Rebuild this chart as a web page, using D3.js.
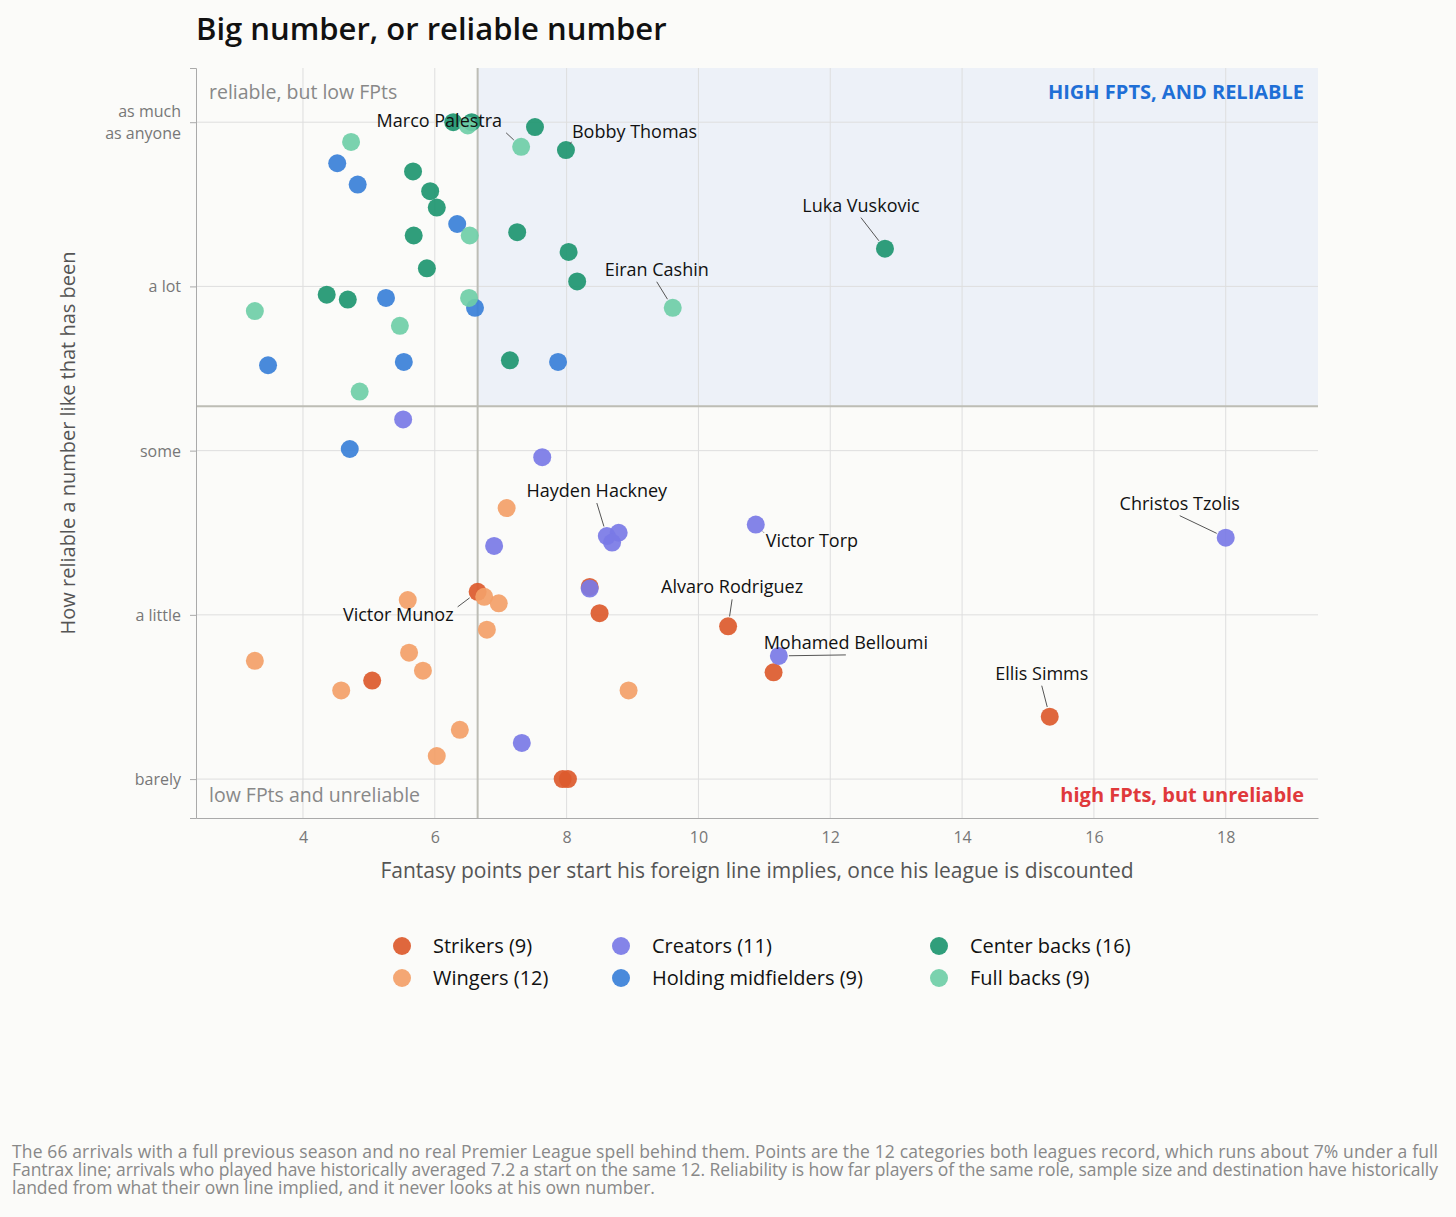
<!DOCTYPE html>
<html><head><meta charset="utf-8">
<script src="https://cdn.jsdelivr.net/npm/d3@7"></script>
<style>
body{margin:0;background:#fbfbf9;font-family:"Open Sans","Noto Sans",sans-serif;}
</style></head><body><div id="chart"></div>
<script>
// values: x = fantasy points, y = reliability (0 = barely, 4 = as much as anyone)
const strikers = [[6.65,1.14],[8.35,1.17],[8.50,1.01],[5.05,0.60],[10.45,0.93],[11.14,0.65],[15.33,0.38],[7.94,0],[8.02,0]];
const wingers = [[7.09,1.65],[5.59,1.09],[6.75,1.11],[6.97,1.07],[6.79,0.91],[3.27,0.72],[5.61,0.77],[5.82,0.66],[4.58,0.54],[8.94,0.54],[6.38,0.30],[6.03,0.14]];
const creators = [[5.52,2.19],[7.63,1.96],[10.87,1.55],[18.0,1.47],[8.61,1.48],[8.79,1.50],[8.69,1.44],[6.90,1.42],[8.35,1.16],[11.22,0.75],[7.32,0.22]];
const holding = [[4.52,3.75],[4.83,3.62],[6.34,3.38],[5.26,2.93],[6.61,2.87],[3.47,2.52],[5.53,2.54],[7.87,2.54],[4.71,2.01]];
const centerBacks = [[6.28,4.00],[6.56,4.00],[7.52,3.97],[7.99,3.83],[5.67,3.70],[5.93,3.58],[6.03,3.48],[7.25,3.33],[5.68,3.31],[8.03,3.21],[12.83,3.23],[5.88,3.11],[8.16,3.03],[4.36,2.95],[4.68,2.92],[7.14,2.55]];
const fullBacks = [[4.73,3.88],[6.50,3.98],[7.31,3.85],[6.53,3.31],[6.52,2.93],[9.61,2.87],[3.27,2.85],[5.47,2.76],[4.86,2.36]];

const seriesNames = ["Strikers (9)","Wingers (12)","Creators (11)","Holding midfielders (9)","Center backs (16)","Full backs (9)"];
const seriesData = [strikers, wingers, creators, holding, centerBacks, fullBacks];
const seriesColors = ["#dc5a2c","#f3a068","#7a7ae6","#3a80d8","#1e9670","#6fcea7"];

const yTicks = [0,1,2,3,4];
const yTickLabels = ["barely","a little","some","a lot","as much|as anyone"];
const xTicks = [4,6,8,10,12,14,16,18];
const splitX = 6.65, splitY = 2.27;

// name, x, y of the point, then label dx/dy (px), anchor
const labels = [
  ["Marco Palestra",7.31,3.85,-19,-20,"end"],
  ["Bobby Thomas",7.99,3.83,6,-12,"start"],
  ["Luka Vuskovic",12.83,3.23,-24,-37,"middle"],
  ["Eiran Cashin",9.61,2.87,-16,-32,"middle"],
  ["Hayden Hackney",8.61,1.48,-10,-39,"middle"],
  ["Christos Tzolis",18.0,1.47,-46,-28,"middle"],
  ["Victor Torp",10.87,1.55,10,22,"start"],
  ["Alvaro Rodriguez",10.45,0.93,4,-33,"middle"],
  ["Victor Munoz",6.65,1.14,-24,29,"end"],
  ["Mohamed Belloumi",11.22,0.75,67,-7,"middle"],
  ["Ellis Simms",15.33,0.38,-8,-37,"middle"]
];

const W = 1456, H = 1217;
const svg = d3.select("#chart").append("svg").attr("width", W).attr("height", H);
const x = d3.scaleLinear().domain([2.377, 19.40]).range([196, 1318]);
const y = d3.scaleLinear().domain([-0.237, 4.33]).range([818, 68]);

svg.append("rect").attr("x", x(splitX)).attr("y", y(4.33)).attr("width", x(19.40) - x(splitX))
  .attr("height", y(splitY) - y(4.33)).attr("fill", "#edf1f8");

const grid = svg.append("g");
xTicks.forEach(t => grid.append("line").attr("x1", x(t)).attr("x2", x(t)).attr("y1", 68).attr("y2", 818).attr("stroke", "#dedede"));
yTicks.forEach(t => grid.append("line").attr("x1", 196).attr("x2", 1318).attr("y1", y(t)).attr("y2", y(t)).attr("stroke", "#dedede"));

svg.append("line").attr("x1", x(splitX)).attr("x2", x(splitX)).attr("y1", 68).attr("y2", 818).attr("stroke", "#bdbdb5").attr("stroke-width", 2);
svg.append("line").attr("x1", 196).attr("x2", 1318).attr("y1", y(splitY)).attr("y2", y(splitY)).attr("stroke", "#bdbdb5").attr("stroke-width", 2);

const xAxis = svg.append("g").attr("transform", "translate(0,818)").call(d3.axisBottom(x).tickValues(xTicks).tickSize(0).tickPadding(14));
const yAxis = svg.append("g").attr("transform", "translate(196,0)").call(d3.axisLeft(y).tickValues(yTicks).tickSize(6).tickPadding(10).tickFormat(""));
[xAxis, yAxis].forEach(a => {
  a.select(".domain").attr("stroke", "#aaa");
  a.selectAll("line").attr("stroke", "#aaa");
  a.selectAll("text").attr("fill", "#777").style("font-size", "16px").style("font-family", "Open Sans");
});
yTicks.forEach((t, i) => {
  const parts = yTickLabels[i].split("|");
  const tx = svg.append("text").attr("x", 181).attr("y", y(t) + 6 - (parts.length - 1) * 11)
    .attr("text-anchor", "end").attr("fill", "#777").style("font-size", "16px");
  parts.forEach((p, j) => tx.append("tspan").attr("x", 181).attr("dy", j ? 22 : 0).text(p));
});

svg.append("text").attr("x", 757).attr("y", 878).attr("text-anchor", "middle").attr("fill", "#555")
  .style("font-size", "21px").text("Fantasy points per start his foreign line implies, once his league is discounted");
svg.append("text").attr("transform", "translate(75,443) rotate(-90)").attr("text-anchor", "middle").attr("fill", "#555")
  .style("font-size", "20px").text("How reliable a number like that has been");

svg.append("text").attr("x", 196).attr("y", 40).style("font-size", "31px").style("font-weight", "600").attr("fill", "#111")
  .text("Big number, or reliable number");

svg.append("text").attr("x", 209).attr("y", 99).attr("fill", "#888").style("font-size", "19.5px").text("reliable, but low FPts");
svg.append("text").attr("x", 209).attr("y", 802).attr("fill", "#888").style("font-size", "19.5px").text("low FPts and unreliable");
svg.append("text").attr("x", 1304).attr("y", 99).attr("text-anchor", "end").attr("fill", "#1f6fd6").style("font-size", "20px").style("font-weight", "700").text("HIGH FPTS, AND RELIABLE");
svg.append("text").attr("x", 1304).attr("y", 802).attr("text-anchor", "end").attr("fill", "#e0393b").style("font-size", "20px").style("font-weight", "700").text("high FPts, but unreliable");

seriesData.forEach((data, i) => {
  svg.append("g").selectAll("circle").data(data).join("circle")
    .attr("cx", d => x(d[0])).attr("cy", d => y(d[1])).attr("r", 9)
    .attr("fill", seriesColors[i]).attr("fill-opacity", 0.92);
});

labels.forEach(([name, lx, ly, dx, dy, anchor]) => {
  const px = x(lx), py = y(ly);
  const tx = px + dx, ty = py + dy;
  const ex = anchor === "end" ? tx + 4 : anchor === "start" ? tx - 2 : tx;
  const ey = ty + (dy < 0 ? 6 : -14);
  const len = Math.hypot(px - ex, py - ey);
  const k = 10 / len;
  svg.append("line").attr("x1", ex).attr("y1", ey).attr("x2", px + (ex - px) * k).attr("y2", py + (ey - py) * k)
    .attr("stroke", "#555").attr("stroke-width", 1);
  svg.append("text").attr("x", tx).attr("y", ty).attr("text-anchor", anchor).attr("fill", "#111")
    .style("font-size", "18px").text(name);
});

const legendX = [402, 621, 939];
seriesNames.forEach((n, i) => {
  const col = Math.floor(i / 2), row = i % 2;
  const g = svg.append("g").attr("transform", `translate(${legendX[col]},${946 + row * 32})`);
  g.append("circle").attr("r", 9).attr("fill", seriesColors[i]).attr("fill-opacity", 0.92);
  g.append("text").attr("x", 31).attr("y", 7).style("font-size", "20px").attr("fill", "#111").text(n);
});

const foot = ["The 66 arrivals with a full previous season and no real Premier League spell behind them. Points are the 12 categories both leagues record, which runs about 7% under a full",
  "Fantrax line; arrivals who played have historically averaged 7.2 a start on the same 12. Reliability is how far players of the same role, sample size and destination have historically",
  "landed from what their own line implied, and it never looks at his own number."];
foot.forEach((l, i) => svg.append("text").attr("x", 12).attr("y", 1158 + i * 18).attr("fill", "#888").style("font-size", "17.5px").attr("textLength", i < 2 ? 1426 : null).text(l));
</script></body></html>
